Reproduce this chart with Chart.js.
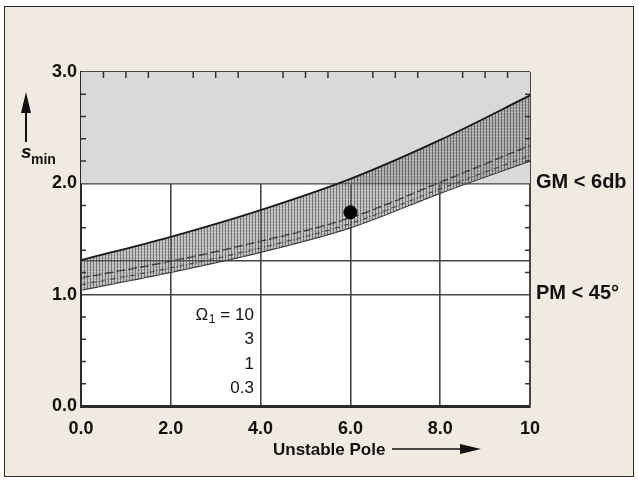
<!DOCTYPE html>
<html>
<head>
<meta charset="utf-8">
<script src="https://cdn.jsdelivr.net/npm/chart.js@4/dist/chart.umd.min.js"></script>
<style>
  html, body { margin: 0; padding: 0; background: #ffffff; }
  .frame {
    position: absolute; left: 4px; top: 6px; width: 628px; height: 469px;
    border: 1.5px solid #2a2a2a; background: #f1eae1;
  }
  #sminChart { position: absolute; left: 0; top: 0; }
</style>
</head>
<body>
<div class="frame"></div>
<canvas id="sminChart" width="638" height="484"></canvas>
<script>
// データ
const poleValues = [0, 2, 4, 6, 8, 10];
const omegaLabels = ['10', '3', '1', '0.3'];
const sMinOmega10 = [1.31, 1.52, 1.76, 2.04, 2.39, 2.79];
const sMinOmega3 = [1.15, 1.30, 1.48, 1.69, 2.01, 2.34];
const sMinOmega1 = [1.09, 1.24, 1.42, 1.64, 1.95, 2.25];
const sMinOmega03 = [1.04, 1.20, 1.38, 1.60, 1.91, 2.20];
const markerPole = [6.0];
const markerSMin = [1.74];

// 軸・目盛り
const xTickLabels = ['0.0', '2.0', '4.0', '6.0', '8.0', '10'];
const yTickValues = [0, 1, 1.3, 2, 3];
const yTickLabels = ['0.0', '1.0', '', '2.0', '3.0'];
const xMinorTicks = [0.5, 1, 1.5, 2.5, 3, 3.5, 4.5, 5, 5.5, 6.5, 7, 7.5, 8.5, 9, 9.5];
const yMinorTicks = [0.2, 0.4, 0.6, 0.8, 1.2, 1.4, 1.6, 1.8, 2.2, 2.4, 2.6, 2.8];
const gmLimit = 2.0;
const pmLimit = 1.0;
const yMax = 3.0;
const limitLabels = ['GM < 6db', 'PM < 45°'];
const limitValues = [gmLimit, pmLimit];

const FONT = '"Liberation Sans", Arial, sans-serif';

function toPoints(ys) {
  return poleValues.map((x, i) => ({ x: x, y: ys[i] }));
}

// 帯のハッチング
function makeBandPattern() {
  const c = document.createElement('canvas');
  c.width = 3; c.height = 3;
  const g = c.getContext('2d');
  g.fillStyle = 'rgba(110,110,110,0.48)';
  g.fillRect(0, 0, 3, 3);
  g.fillStyle = 'rgba(50,50,50,0.5)';
  g.fillRect(0, 0, 1, 3);
  g.fillStyle = 'rgba(255,255,255,0.3)';
  g.fillRect(1, 1, 2, 1);
  return g.createPattern(c, 'repeat');
}

// プロット領域の白背景
const plotBackground = {
  id: 'plotBackground',
  beforeDraw(chart) {
    const { ctx, chartArea: a } = chart;
    ctx.save();
    ctx.fillStyle = '#ffffff';
    ctx.fillRect(a.left, a.top, a.right - a.left, a.bottom - a.top);
    ctx.restore();
  }
};

// 補助目盛りとラベル類
const annotations = {
  id: 'annotations',
  afterDraw(chart) {
    const { ctx, chartArea: a, scales } = chart;
    const xs = scales.x, ys = scales.y;
    ctx.save();
    ctx.strokeStyle = '#333';
    ctx.lineWidth = 1.5;
    ctx.beginPath();
    yMinorTicks.forEach(v => {
      const py = ys.getPixelForValue(v);
      ctx.moveTo(a.left, py); ctx.lineTo(a.left + 5, py);
      ctx.moveTo(a.right, py); ctx.lineTo(a.right - 5, py);
    });
    xMinorTicks.forEach(v => {
      const px = xs.getPixelForValue(v);
      ctx.moveTo(px, a.top); ctx.lineTo(px, a.top + 6);
    });
    ctx.stroke();

    // 右側の限界ラベル
    ctx.fillStyle = '#111';
    ctx.font = 'bold 20px ' + FONT;
    ctx.textBaseline = 'middle';
    ctx.textAlign = 'left';
    limitLabels.forEach((t, i) => {
      ctx.fillText(t, a.right + 6, ys.getPixelForValue(limitValues[i]) - 1);
    });

    // Ω1 凡例
    ctx.font = '17px ' + FONT;
    ctx.textAlign = 'right';
    const right = xs.getPixelForValue(3.85);
    omegaLabels.forEach((t, i) => {
      const py = 315 + i * 24.5;
      if (i === 0) {
        ctx.fillText('= ' + t, right, py);
        const w = ctx.measureText('= ' + t).width;
        ctx.font = '12px ' + FONT;
        ctx.fillText('1', right - w - 5, py + 5);
        ctx.font = '17px ' + FONT;
        ctx.fillText('\u03A9', right - w - 12, py);
      } else {
        ctx.fillText(t, right, py);
      }
    });

    // y軸タイトル s_min と矢印
    ctx.fillStyle = '#111';
    ctx.strokeStyle = '#111';
    ctx.lineWidth = 2;
    ctx.beginPath();
    ctx.moveTo(26, 142); ctx.lineTo(26, 108);
    ctx.stroke();
    ctx.beginPath();
    ctx.moveTo(26, 92); ctx.lineTo(21, 113); ctx.lineTo(31, 113); ctx.closePath();
    ctx.fill();
    ctx.textAlign = 'left';
    ctx.textBaseline = 'alphabetic';
    ctx.font = 'bold italic 19px ' + FONT;
    ctx.fillText('s', 21, 158);
    ctx.font = 'bold 14px ' + FONT;
    ctx.fillText('min', 31, 164);

    // x軸タイトルと矢印
    ctx.font = 'bold 17px ' + FONT;
    ctx.fillText('Unstable Pole', 273, 455);
    ctx.lineWidth = 1.5;
    ctx.beginPath();
    ctx.moveTo(392, 449); ctx.lineTo(465, 449);
    ctx.stroke();
    ctx.beginPath();
    ctx.moveTo(481, 449); ctx.lineTo(460, 444); ctx.lineTo(460, 454); ctx.closePath();
    ctx.fill();
    ctx.restore();
  }
};

const bandPattern = makeBandPattern();

new Chart(document.getElementById('sminChart'), {
  type: 'line',
  data: {
    datasets: [
      {
        type: 'scatter',
        label: 'design point',
        data: markerPole.map((x, i) => ({ x: x, y: markerSMin[i] })),
        pointRadius: 6.5,
        pointBackgroundColor: '#000',
        pointBorderColor: '#000',
        showLine: false
      },
      {
        label: 'Ω1 = 10',
        data: toPoints(sMinOmega10),
        borderColor: '#1a1a1a',
        borderWidth: 1.8,
        pointRadius: 0,
        cubicInterpolationMode: 'monotone',
        fill: '+3',
        backgroundColor: bandPattern
      },
      {
        label: 'Ω1 = 3',
        data: toPoints(sMinOmega3),
        borderColor: '#1a1a1a',
        borderWidth: 1.6,
        borderDash: [9, 3],
        pointRadius: 0,
        cubicInterpolationMode: 'monotone',
        fill: false
      },
      {
        label: 'Ω1 = 1',
        data: toPoints(sMinOmega1),
        borderColor: '#333',
        borderWidth: 1.3,
        borderDash: [5, 2, 1, 2],
        pointRadius: 0,
        cubicInterpolationMode: 'monotone',
        fill: false
      },
      {
        label: 'Ω1 = 0.3',
        data: toPoints(sMinOmega03),
        borderColor: '#333',
        borderWidth: 1.3,
        pointRadius: 0,
        cubicInterpolationMode: 'monotone',
        fill: false
      },
      {
        label: 'GM region',
        data: [{ x: poleValues[0], y: yMax }, { x: poleValues[poleValues.length - 1], y: yMax }],
        borderWidth: 0,
        pointRadius: 0,
        fill: { value: gmLimit },
        backgroundColor: '#d9d9d9'
      }
    ]
  },
  options: {
    responsive: false,
    animation: false,
    layout: { padding: { top: 72, right: 108, left: 0, bottom: 0 } },
    plugins: {
      legend: { display: false },
      tooltip: { enabled: false }
    },
    scales: {
      x: {
        type: 'linear',
        min: 0,
        max: 10,
        afterFit(scale) { scale.height = 78; },
        ticks: {
          stepSize: 2,
          padding: 12,
          color: '#111',
          font: { family: FONT, size: 18, weight: 'bold' },
          callback: (v, i) => xTickLabels[i]
        },
        grid: {
          drawTicks: false,
          color: '#454545',
          lineWidth: ctx => (ctx.tick && ctx.tick.value === 10 ? 2 : 1.6)
        },
        border: { color: '#2a2a2a', width: 3 }
      },
      y: {
        type: 'linear',
        min: 0,
        max: yMax,
        afterFit(scale) { scale.width = 81; },
        afterBuildTicks(scale) { scale.ticks = yTickValues.map(v => ({ value: v })); },
        ticks: {
          padding: 4,
          color: '#111',
          font: { family: FONT, size: 18, weight: 'bold' },
          callback: (v, i) => yTickLabels[i]
        },
        grid: {
          drawTicks: false,
          color: '#454545',
          lineWidth: ctx => (ctx.tick && ctx.tick.value === yMax ? 2.5 : 1.6)
        },
        border: { color: '#2a2a2a', width: 2 }
      }
    }
  },
  plugins: [plotBackground, annotations]
});
</script>
</body>
</html>
